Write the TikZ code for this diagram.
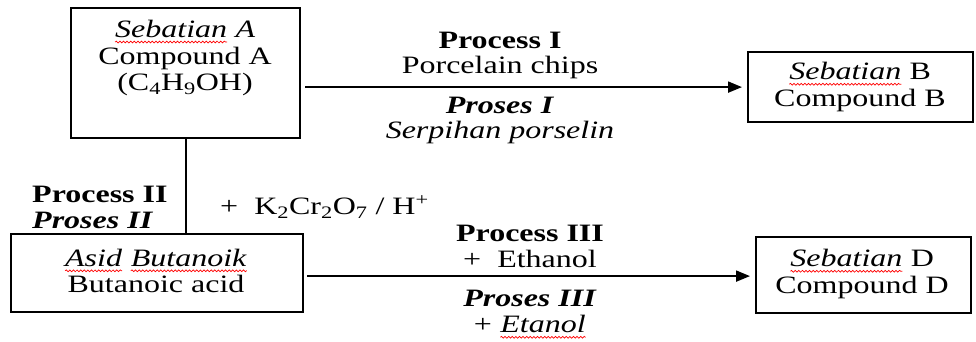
\documentclass[tikz,border=0pt]{standalone}
\usepackage{fontspec}
\setmainfont{Liberation Serif}[FakeStretch=1.28]
\usetikzlibrary{arrows.meta,decorations.pathmorphing}
\newcommand\spell[1]{\tikz[baseline=(w.base),x=1pt,y=1pt]{\node[inner sep=0pt,outer sep=0pt] (w) {#1};\draw[red, line width=0.7pt, decorate, decoration={snake,amplitude=0.9pt,segment length=3.6pt}] ([yshift=-4.5pt]w.base west) -- ([yshift=-4.5pt]w.base east);}}
\tikzset{
  box/.style={draw, line width=2.2pt, inner sep=0pt, anchor=north west},
  txt/.style={inner sep=0pt, align=center, font=\fontsize{25}{26.5}\selectfont},
  conn/.style={line width=2pt},
  arr/.style={conn, -{Triangle[length=14pt,width=11pt]}},
}
\begin{document}
\begin{tikzpicture}[x=1pt,y=-1pt]
\useasboundingbox (0,0) rectangle (976,342);
% boxes
\node[box, minimum width=229pt, minimum height=130pt] (A) at (70,7) {};
\node[box, minimum width=225pt, minimum height=70pt] (B) at (747,51) {};
\node[box, minimum width=292pt, minimum height=78pt] (C) at (10,233) {};
\node[box, minimum width=215pt, minimum height=76pt] (D) at (755,236) {};
% box texts
\node[txt] (tA) at (185,58) {\spell{\textit{Sebatian}} \textit{A}\\Compound A\\(C\textsubscript{4}H\textsubscript{9}OH)};
\node[txt] (tB) at (860,87) {\spell{\textit{Sebatian}} B\\Compound B};
\node[txt] (tC) at (156,271) {\spell{\textit{Asid}} \spell{\textit{Butanoik}}\\Butanoic acid};
\node[txt] (tD) at (862,274) {\spell{\textit{Sebatian}} D\\Compound D};
% connectors
\draw[arr, shorten >=5pt] ([xshift=4pt]A.east |- B.west) -- (B.west);
\draw[conn] (A.south) -- (A.south |- C.north);
\draw[arr, shorten >=5pt] ([xshift=3pt,yshift=-3pt]C.east) -- ([yshift=-3pt]C.east -| D.west);
% process I labels
\node[txt] (p1a) at (500,40) {\textbf{Process I}};
\node[txt] (p1b) at (500,67) {Porcelain chips};
\node[txt] (p1c) at (500,105) {\textbf{\textit{Proses I}}};
\node[txt] (p1d) at (500,132) {\textit{Serpihan porselin}};
% process II labels
\node[txt, anchor=west] (p2a) at (32,194) {\textbf{Process II}};
\node[txt, anchor=west] (p2b) at (32,220) {\textbf{\textit{Proses II}}};
\node[txt, anchor=west] (p2c) at (220,207) {+\ \ K\textsubscript{2}Cr\textsubscript{2}O\textsubscript{7} / H\textsuperscript{+}};
% process III labels
\node[txt] (p3a) at (530,233) {\textbf{Process III}};
\node[txt] (p3b) at (530,259) {+\ \ Ethanol};
\node[txt] (p3c) at (530,298) {\textbf{\textit{Proses III}}};
\node[txt] (p3d) at (530,327) {+ \spell{\textit{Etanol}}};
\end{tikzpicture}
\end{document}
